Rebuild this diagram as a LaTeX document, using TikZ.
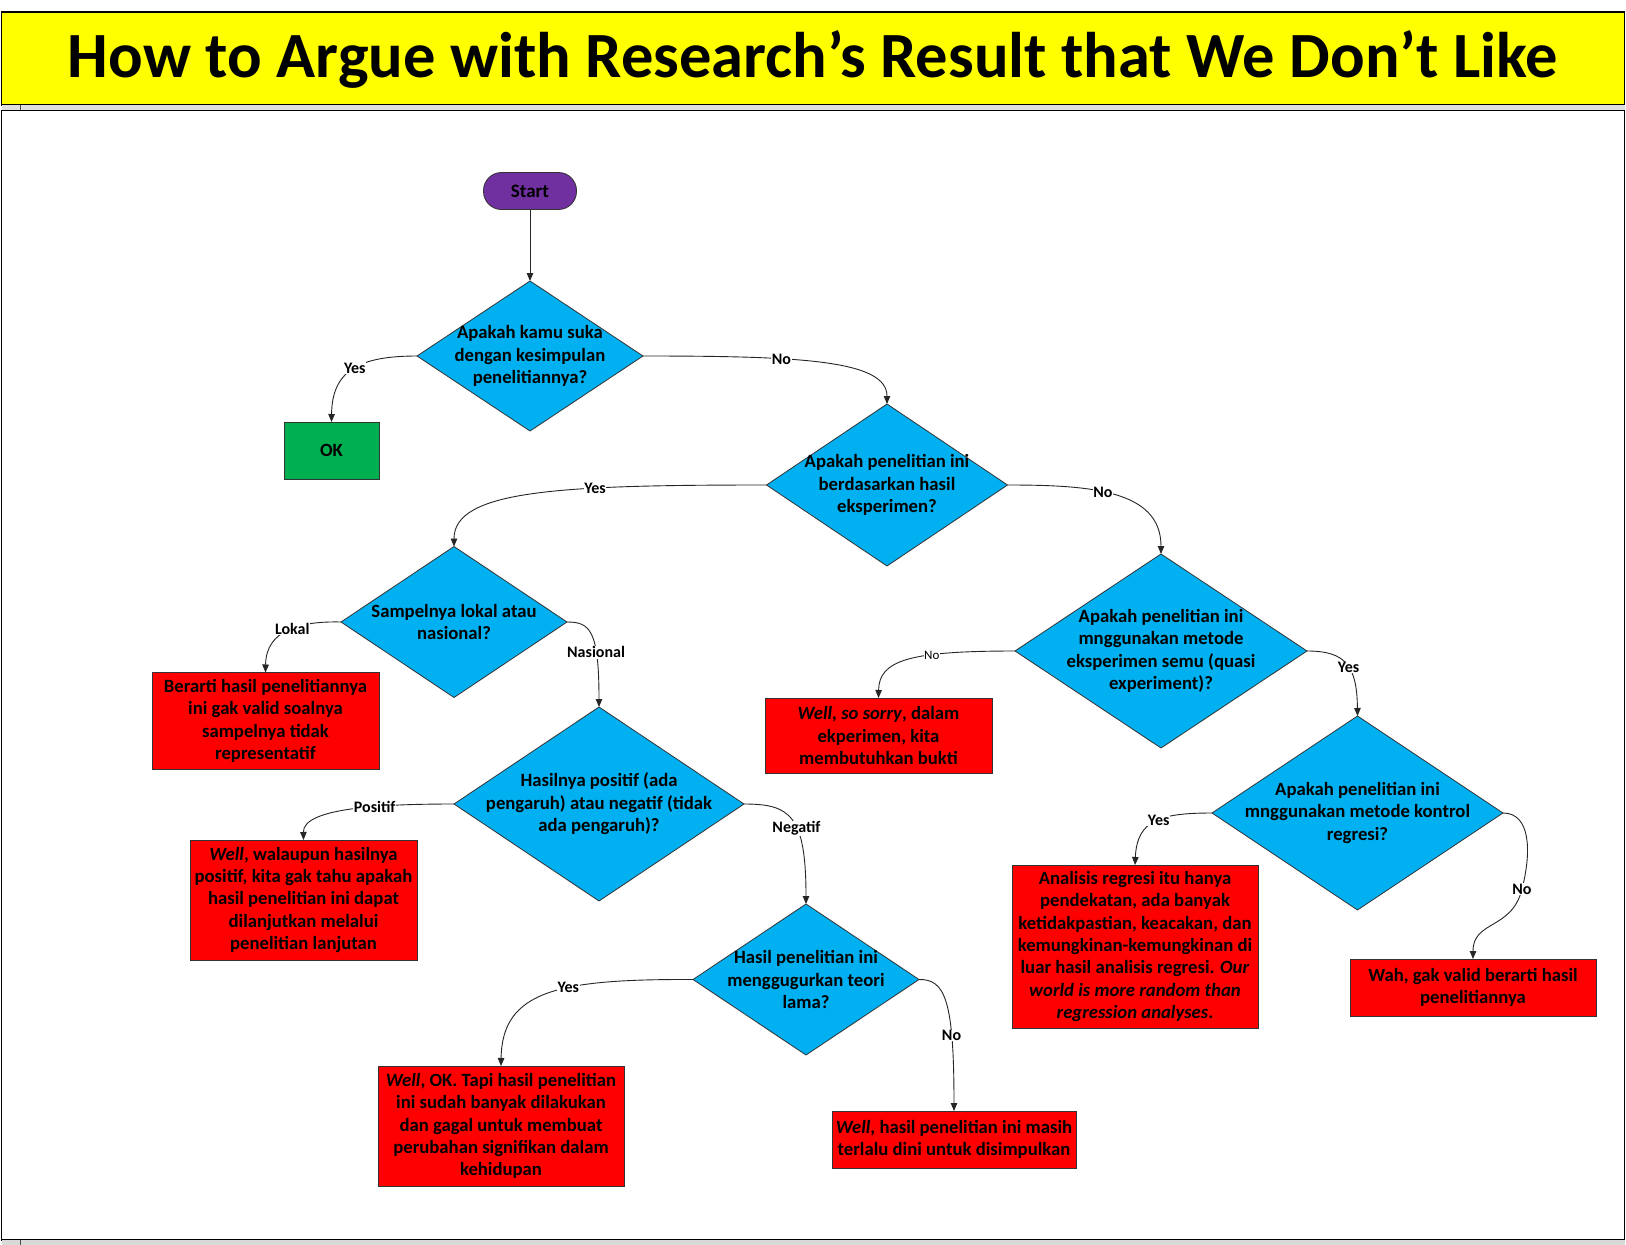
\documentclass[tikz,border=0pt]{standalone}
\usepackage{fontspec}
\setmainfont{Carlito}
\usetikzlibrary{shapes.geometric,arrows.meta}
\definecolor{cPurple}{HTML}{7030A0}
\definecolor{cBlue}{HTML}{00B0F0}
\definecolor{cGreen}{HTML}{00B050}
\definecolor{cRed}{HTML}{FF0000}
\definecolor{cYellow}{HTML}{FFFF00}
\begin{document}
\begin{tikzpicture}[x=1pt,y=-1pt,
  every node/.style={inner sep=0pt, outer sep=0pt},
  txt/.style={font=\bfseries\fontsize{18.7}{22.4}\selectfont, align=center, text=black},
  dia/.style={diamond, draw=black!80, line width=0.8pt, fill=cBlue},
  redbox/.style={rectangle, draw=black!80, line width=0.8pt, fill=cRed, txt, inner sep=1pt},
  lbl/.style={font=\bfseries\fontsize{16}{18}\selectfont, fill=white, inner sep=0.6pt},
  lblsmall/.style={font=\fontsize{13}{15}\selectfont, fill=white, inner sep=0.4pt},
  arr/.style={draw=black!85, line width=0.9pt, -{Triangle[length=8pt,width=6.5pt]}}
]
\useasboundingbox (0,0) rectangle (1626,1245);
\fill[white] (0,0) rectangle (1626,1245);

% frame
\node[draw=black, line width=1.2pt, fill=cYellow, minimum width=1623pt, minimum height=93pt] (titlebar) at (813,58.5) {};
\node[font=\bfseries\fontsize{64.5}{76}\selectfont, anchor=base] (title) at (813,77) {How to Argue with Research’s Result that We Don’t Like};
\fill[gray!25] (1.5,105) rectangle (1624.5,110.5);
\draw[black!70, line width=0.8pt] (20,105) -- (20,110.5);
\draw[black, line width=1.2pt] (1.5,110.5) rectangle (1624.5,1240);
\fill[gray!30] (1.5,1240) rectangle (1624.5,1245);
\draw[black!70, line width=0.8pt] (20,1240) -- (20,1245);

% nodes
\node[draw=black!80, line width=0.8pt, fill=cPurple, rounded corners=18pt, minimum width=93pt, minimum height=37pt, font=\bfseries\fontsize{19}{21}\selectfont] (start) at (530,191) {Start};

\node[dia, minimum width=226pt, minimum height=150pt] (d1) at (530,356) {};
\node[txt] (d1t) at (d1.center) {Apakah kamu suka\\dengan kesimpulan\\penelitiannya?};

\node[draw=black!80, line width=0.8pt, fill=cGreen, minimum width=95pt, minimum height=57pt, txt] (ok) at (331.5,450.5) {OK};

\node[dia, minimum width=241pt, minimum height=162pt] (d2) at (887,485) {};
\node[txt] (d2t) at (d2.center) {Apakah penelitian ini\\berdasarkan hasil\\eksperimen?};

\node[dia, minimum width=226pt, minimum height=151pt] (d3) at (454,622) {};
\node[txt] (d3t) at (d3.center) {Sampelnya lokal atau\\nasional?};

\node[redbox, minimum width=227pt, minimum height=97pt] (berarti) at (265.5,721) {Berarti hasil penelitiannya\\ini gak valid soalnya\\sampelnya tidak\\representatif};

\node[dia, minimum width=290pt, minimum height=194pt] (d4) at (599,804) {};
\node[txt] (d4t) at (d4.center) {Hasilnya positif (ada\\pengaruh) atau negatif (tidak\\ada pengaruh)?};

\node[redbox, minimum width=227pt, minimum height=120pt] (walau) at (303.5,900) {\textit{Well}, walaupun hasilnya\\positif, kita gak tahu apakah\\hasil penelitian ini dapat\\dilanjutkan melalui\\penelitian lanjutan};

\node[dia, minimum width=226pt, minimum height=151pt] (d5) at (806,979.5) {};
\node[txt] (d5t) at (d5.center) {Hasil penelitian ini\\menggugurkan teori\\lama?};

\node[redbox, minimum width=246pt, minimum height=120pt] (wellok) at (501,1126) {\textit{Well}, OK. Tapi hasil penelitian\\ini sudah banyak dilakukan\\dan gagal untuk membuat\\perubahan signifikan dalam\\kehidupan};

\node[redbox, minimum width=244pt, minimum height=57pt] (wellhasil) at (954,1139.5) {\textit{Well}, hasil penelitian ini masih\\terlalu dini untuk disimpulkan};

\node[dia, minimum width=292pt, minimum height=194pt] (d6) at (1161,651) {};
\node[txt] (d6t) at (d6.center) {Apakah penelitian ini\\mnggunakan metode\\eksperimen semu (quasi\\experiment)?};

\node[redbox, minimum width=227pt, minimum height=75pt] (sorry) at (878.5,735.5) {\textit{Well, so sorry}, dalam\\ekperimen, kita\\membutuhkan bukti};

\node[dia, minimum width=291pt, minimum height=194pt] (d7) at (1357.5,813) {};
\node[txt] (d7t) at (d7.center) {Apakah penelitian ini\\mnggunakan metode kontrol\\regresi?};

\node[redbox, minimum width=246pt, minimum height=163pt] (analisis) at (1135,946.5) {Analisis regresi itu hanya\\pendekatan, ada banyak\\ketidakpastian, keacakan, dan\\kemungkinan-kemungkinan di\\luar hasil analisis regresi. \textit{Our}\\\textit{world is more random than}\\\textit{regression analyses}.};

\node[redbox, minimum width=246pt, minimum height=57pt] (wah) at (1473,987.5) {Wah, gak valid berarti hasil\\penelitiannya};

% connectors
\draw[arr] (start.south) -- (d1.north);
\draw[arr] (d1.west) .. controls (360,356) and (332,370) .. (ok.north) node[lbl,pos=0.48] (l1) {Yes};
\draw[arr] (d1.east) .. controls (800,356) and (887,360) .. (d2.north) node[lbl,pos=0.35] (l2) {No};
\draw[arr] (d2.west) .. controls (560,485) and (454,490) .. (d3.north) node[lbl,pos=0.33] (l3) {Yes};
\draw[arr] (d2.east) .. controls (1090,485) and (1161,490) .. (d6.north) node[lbl,pos=0.43] (l4) {No};
\draw[arr] (d3.west) .. controls (300,621) and (266,630) .. (berarti.north) node[lbl,pos=0.45] (l5) {Lokal};
\draw[arr] (d3.east) .. controls (590,622) and (599,630) .. (d4.north) node[lbl,pos=0.68] (l6) {Nasional};
\draw[arr] (d4.west) .. controls (380,804) and (303,808) .. (walau.north) node[lbl,pos=0.37] (l7) {Positif};
\draw[arr] (d4.east) .. controls (790,804) and (806,815) .. (d5.north) node[lbl,pos=0.58] (l8) {Negatif};
\draw[arr] (d5.west) .. controls (560,979) and (502,990) .. (wellok.north) node[lbl,pos=0.4] (l9) {Yes};
\draw[arr] (d5.east) .. controls (945,979) and (954,1000) .. (wellhasil.north) node[lbl,pos=0.71] (l10) {No};
\draw[arr] (d6.west) .. controls (910,651) and (879,660) .. (sorry.north) node[lblsmall,pos=0.34] (l11) {No};
\draw[arr] (d6.east) .. controls (1345,651) and (1357,665) .. (d7.north) node[lbl,pos=0.55] (l12) {Yes};
\draw[arr] (d7.west) .. controls (1160,813) and (1137,820) .. (analisis.north) node[lbl,pos=0.45] (l13) {Yes};
\coordinate (c15) at (1522,889);
\draw[arr] (d7.east) .. controls (1530,813) and (1532,850) .. (c15) .. controls (1512,930) and (1473,920) .. (wah.north);
\node[lbl] (l14) at (c15) {No};
\end{tikzpicture}
\end{document}
